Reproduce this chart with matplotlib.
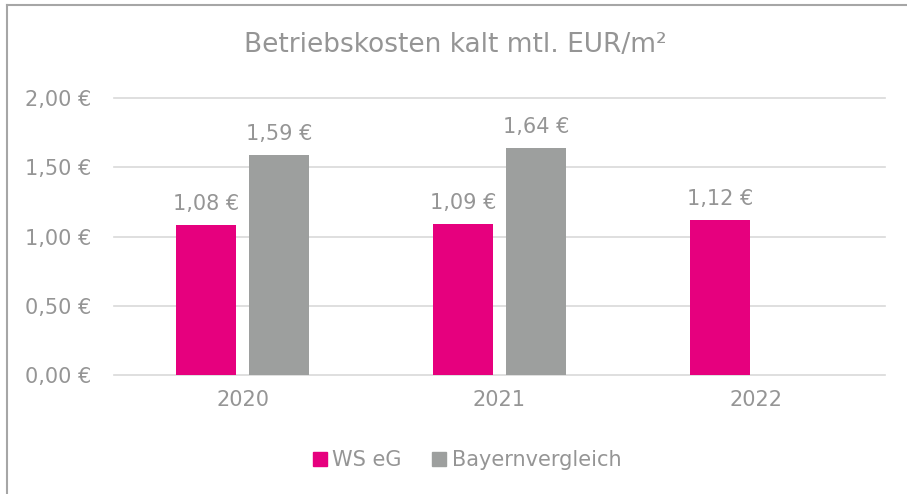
import matplotlib.pyplot as plt
import numpy as np
from matplotlib.lines import Line2D

years = ["2020", "2021", "2022"]
ws_eg = [1.08, 1.09, 1.12]
bayern = [1.59, 1.64, np.nan]
yticks = [0.0, 0.5, 1.0, 1.5, 2.0]

pink = "#E6007E"
grey = "#9D9F9E"
txt = "#959595"

plt.rcParams['font.family'] = ['DejaVu Sans']

fig = plt.figure(figsize=(9.07, 4.94), dpi=100)
ax = fig.add_axes([0.1257, 0.2409, 0.85, 0.5607])

x = np.arange(len(years))
w = 0.23
off = 0.142

b1 = ax.bar(x - off, ws_eg, w, color=pink, label="WS eG")
b2 = ax.bar(x + off, bayern, w, color=grey, label="Bayernvergleich")

def eur(v):
    return f"{v:.2f}".replace(".", ",") + " €"

for rect, v in zip(b1, ws_eg):
    ax.annotate(eur(v), (rect.get_x() + rect.get_width() / 2, v),
                xytext=(0, 8), textcoords="offset points",
                ha="center", va="bottom", fontsize=15, color=txt)
for rect, v in zip(b2, bayern):
    if np.isnan(v):
        continue
    ax.annotate(eur(v), (rect.get_x() + rect.get_width() / 2, v),
                xytext=(0, 8), textcoords="offset points",
                ha="center", va="bottom", fontsize=15, color=txt)

ax.set_xlim(-0.5, 2.5)
ax.set_ylim(0, 2.0)
ax.set_yticks(yticks)
ax.set_yticklabels([eur(v) for v in yticks])
ax.set_xticks(x)
ax.set_xticklabels(years)
ax.tick_params(axis="y", length=0, pad=16, labelsize=15, labelcolor=txt)
ax.tick_params(axis="x", length=0, pad=11, labelsize=15, labelcolor=txt)
ax.grid(axis="y", color="#D9D9D9", linewidth=1.2)
for gl in ax.get_ygridlines():
    gl.set_clip_on(False)
ax.set_axisbelow(True)
for s in ax.spines.values():
    s.set_visible(False)

fig.text(0.502, 1 - 45 / 494, "Betriebskosten kalt mtl. EUR/m²", ha="center", va="center",
         fontsize=19, color=txt)

handles = [Line2D([], [], marker="s", linestyle="", markersize=10, color=pink),
           Line2D([], [], marker="s", linestyle="", markersize=10, color=grey)]
fig.legend(handles, ["WS eG", "Bayernvergleich"], loc="center",
           bbox_to_anchor=(0.513, 1 - 460 / 494), ncol=2, frameon=False,
           fontsize=15, labelcolor=txt, handletextpad=0.1, columnspacing=1.3,
           handlelength=1.0)

# partial frame (left and top edges visible)
fig.add_artist(Line2D([7 / 907, 7 / 907], [0, 1 - 5 / 494], color="#A6A6A6", linewidth=1.5))
fig.add_artist(Line2D([7 / 907, 906 / 907], [1 - 5 / 494, 1 - 5 / 494], color="#A6A6A6", linewidth=1.5))

fig.savefig("out.png", dpi=100)
